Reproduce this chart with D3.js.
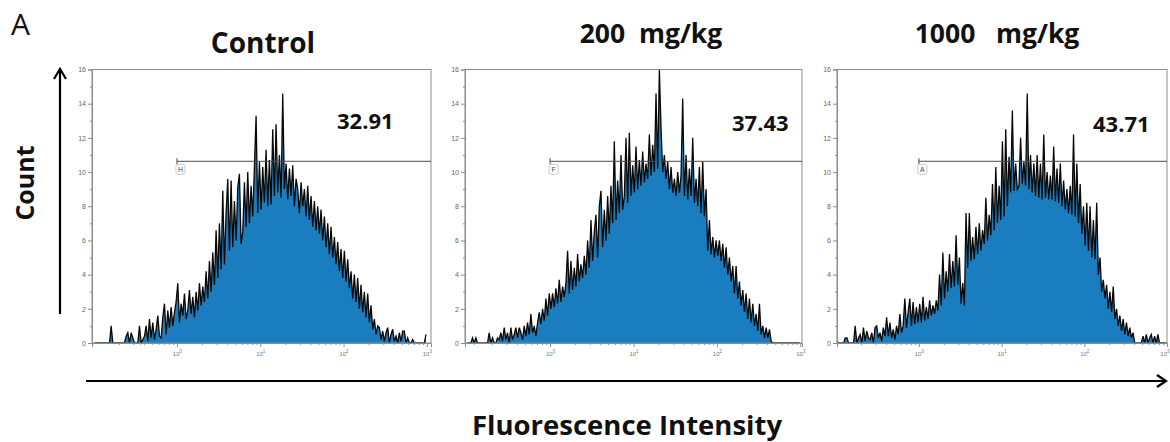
<!DOCTYPE html>
<html><head><meta charset="utf-8">
<script src="https://cdn.jsdelivr.net/npm/d3@7"></script>
<style>body{margin:0;background:#fff} svg{display:block} text{font-family:'Open Sans','Noto Sans',sans-serif}</style>
</head><body>
<svg id="c" width="1170" height="442"></svg>
<script>
// ---------- data ----------
const panelTitles = ["Control", "200  mg/kg", "1000   mg/kg"];
const gatePercents = ["32.91", "37.43", "43.71"];
const gateLetters = ["H", "F", "A"];
const gateStartValue = 1;
const gateLevel = 10.63;
const binStartLog = -1, binWidthLog = 0.02;   // histogram channels in log10 units
const countControl = [
0,0,0,0,0,0,0,0,0,0,
1.0,0,0,0,0,0,0,0,0,0.4,
0.6,0,0.6,0.3,0,0,0,1.0,0,0.2,
0.4,1.0,0.1,1.4,0.3,1.2,0.2,0.8,1.6,0.4,
0.3,1.5,2.3,0.5,1.9,0.9,2.1,1.0,1.8,2.4,
3.5,1.2,2.3,1.6,2.9,1.4,1.9,3.1,1.7,2.7,
1.5,3.0,1.9,3.5,2.2,3.3,2.4,4.2,2.6,4.8,
3.0,5.3,3.4,6.6,3.8,7.0,4.3,8.9,4.6,7.6,
9.6,5.4,9.5,5.6,8.3,6.0,9.1,9.9,5.8,6.5,
9.4,6.8,10.0,7.0,9.2,7.4,10.3,13.3,7.6,10.6,
7.8,10.3,8.2,11.3,8.0,10.7,8.1,12.5,8.6,12.8,
8.8,11.0,8.5,14.6,9.0,10.5,8.4,10.2,8.6,10.4,
8.0,9.6,9.0,7.6,9.4,8.0,9.0,7.4,9.2,7.2,
8.6,6.8,8.3,6.6,8.0,6.4,7.8,6.0,7.4,5.6,
7.0,5.2,6.8,5.0,6.2,4.6,5.9,4.2,5.5,3.8,
5.4,3.6,4.9,3.2,4.2,2.6,4.0,2.4,3.8,2.0,
3.4,1.8,3.0,1.5,2.9,1.2,2.2,0.8,1.4,0.5,
1.0,0.9,0.2,0.7,0.1,0.6,0.9,0,0.5,0.8,
0.1,0.4,0,0.6,0.1,0.7,0.7,0,0.3,0,
0,0.2,0,0,0,0,0,0,0,0.5];
const count200 = [
0,0,0,0.3,0,0.3,0,0,0,0,
0,0,0,0.6,0,0.3,0,0,0.3,0.2,
0.6,0.1,0.9,0.2,0.6,0,0.9,0.2,0.5,0.9,
0.3,0.9,0.6,0.2,1.0,0.4,1.2,0.5,1.7,0.6,
1.0,0.4,1.2,1.8,1.1,2.0,1.3,2.6,1.6,2.9,
2.0,2.9,2.1,3.2,2.3,3.7,2.4,3.3,2.7,3.5,
5.4,2.9,4.8,3.1,4.4,3.3,5.2,3.6,4.6,3.8,
5.1,4.0,6.0,4.4,7.2,4.8,6.5,7.5,5.0,8.0,
8.9,5.6,7.8,6.0,8.6,6.4,9.2,7.0,11.8,7.2,
9.5,7.6,11.0,7.8,8.6,12.0,8.2,12.3,8.6,10.4,
8.8,11.5,9.0,10.7,9.2,11.2,9.4,10.5,9.6,12.2,
9.8,11.6,10.0,14.6,10.2,16.0,12.6,10.0,11.0,9.6,
10.6,9.0,10.3,8.8,9.6,8.6,10.0,8.8,9.8,14.3,
8.6,11.0,8.4,10.2,8.6,12.0,8.2,9.6,8.0,10.3,
7.6,10.6,7.4,9.0,5.4,7.2,5.2,6.2,5.0,6.0,
5.1,6.0,4.8,5.8,4.4,5.6,4.0,5.0,3.6,4.5,
2.9,4.5,2.6,3.6,2.2,3.1,1.8,2.9,1.4,2.6,
1.2,2.3,1.0,1.7,0.7,2.3,0.5,1.0,0.3,0.9,
0.3,0.8,0.1,0,0,0,0,0,0,0,
0,0,0,0,0,0,0,0,0,0];
const count1000 = [
0.1,0,0,0,0,0.3,0.3,0,0,0,
0,1.0,0,0.3,0.5,0,0.9,0.1,0.7,0.3,
0.2,0.6,0,0.9,1.0,0.3,0.6,0.1,0.9,0.4,
1.5,0.4,1.2,0.3,0.8,0.2,1.0,0.5,1.7,0.6,
1.0,2.6,0.9,1.8,2.6,1.0,2.4,1.1,2.1,1.2,
2.3,1.2,2.7,1.3,2.1,1.4,2.5,1.6,2.2,1.7,
2.5,1.9,4.0,2.2,5.3,2.6,4.2,3.0,5.2,3.2,
4.8,3.3,6.3,3.4,5.0,2.3,3.5,2.2,7.6,4.4,
7.6,4.8,6.2,4.9,6.8,5.2,7.0,5.4,6.6,5.8,
8.5,6.0,7.5,6.3,9.3,6.6,10.3,7.0,9.2,7.2,
11.8,7.4,12.5,8.0,10.9,8.8,13.6,8.9,10.5,9.0,
9.2,12.0,9.3,10.6,9.2,14.6,9.0,11.0,8.8,10.5,
8.6,11.0,8.5,10.5,8.4,12.2,8.5,10.0,8.4,9.8,
8.4,11.5,8.3,10.2,8.2,10.5,8.0,9.5,7.8,9.0,
7.6,9.2,7.5,12.2,7.4,10.5,7.0,9.3,6.4,8.0,
5.7,8.2,5.4,8.0,5.0,7.2,4.9,8.2,4.0,5.0,
3.0,3.7,2.6,3.4,2.0,3.0,1.8,3.3,1.4,2.0,
1.0,1.6,0.7,1.4,0.5,1.2,0.4,0.9,0.3,0.6,
0,0,0,0,0,0.4,0,0.5,0,0.3,
0.5,0,0.4,0,0.5,0,0,0,0,0];
const seriesCounts = [countControl, count200, count1000];
const yTickValues = [0, 2, 4, 6, 8, 10, 12, 14, 16];
const yMinorTickValues = [1, 3, 5, 7, 9, 11, 13, 15];
const xTickValues = [1, 10, 100, 1000];
const xTickExponents = ["0", "1", "2", "3"];

// ---------- layout ----------
const panels = [
  {left: 92,  width: 339, dMin: -1.02, dMax: 3.05, pctX: 245, pctY: 129, titleX: 263, titleY: 53, titleSize: 28},
  {left: 465, width: 337, dMin: -1.02, dMax: 3.02, pctX: 267, pctY: 131, titleX: 651, titleY: 43, titleSize: 26.5},
  {left: 837, width: 330, dMin: -0.99, dMax: 3.00, pctX: 256, pctY: 132, titleX: 997, titleY: 43, titleSize: 26.5}
];
const plotTop = 69.5, plotBottom = 343;
const svg = d3.select("#c");
const blue = "#1a7dbf";

svg.append("text").attr("x", 11).attr("y", 35).attr("font-size", 30).attr("fill", "#111").text("A");

panels.forEach((p, k) => {
  const x = d3.scaleLog().domain([Math.pow(10, p.dMin), Math.pow(10, p.dMax)]).range([p.left, p.left + p.width]);
  const y = d3.scaleLinear().domain([0, 16]).range([plotBottom, plotTop]);
  const g = svg.append("g");
  const counts = seriesCounts[k];
  const pts = counts.map((v, i) => ({x: Math.pow(10, binStartLog + binWidthLog * (i + 0.5)), v}));

  g.append("path").datum(pts)
    .attr("d", d3.area().x(d => x(d.x)).y0(y(0)).y1(d => y(d.v)))
    .attr("fill", blue);
  g.append("path").datum(pts)
    .attr("d", d3.line().x(d => x(d.x)).y(d => y(d.v)))
    .attr("fill", "none").attr("stroke", "#080808").attr("stroke-width", 1.3).attr("stroke-linejoin", "miter");

  // frame
  g.append("rect").attr("x", p.left).attr("y", plotTop).attr("width", p.width).attr("height", plotBottom - plotTop)
    .attr("fill", "none").attr("stroke", "#8c8c8c").attr("stroke-width", 1);

  // y axis
  const ya = g.append("g").attr("transform", `translate(${p.left},0)`)
    .call(d3.axisLeft(y).tickValues(yTickValues).tickSize(4).tickPadding(2));
  ya.select(".domain").attr("stroke", "#8c8c8c");
  ya.selectAll(".tick line").attr("stroke", "#8c8c8c");
  ya.selectAll("text").attr("font-size", 7).attr("fill", "#666").style("font-family", "Arial, 'Liberation Sans', sans-serif");
  const ym = g.append("g").attr("transform", `translate(${p.left},0)`)
    .call(d3.axisLeft(y).tickValues(yMinorTickValues).tickSize(2).tickFormat(""));
  ym.select(".domain").remove();
  ym.selectAll(".tick line").attr("stroke", "#8c8c8c");

  // x axis
  const xa = g.append("g").attr("transform", `translate(0,${plotBottom})`)
    .call(d3.axisBottom(x).tickValues(xTickValues).tickSize(4).tickPadding(3).tickFormat(""));
  xa.select(".domain").attr("stroke", "#8c8c8c");
  xa.selectAll(".tick line").attr("stroke", "#8c8c8c");
  xa.selectAll(".tick").append("text").attr("y", 13)
    .attr("text-anchor", (d, i) => (k === 2 && i === xTickValues.length - 1) ? "end" : "middle")
    .attr("x", (d, i) => (k === 2 && i === xTickValues.length - 1) ? 2 : 0)
    .attr("fill", "#777").attr("font-size", 6).style("font-family", "Arial, 'Liberation Sans', sans-serif")
    .each(function(d, i) {
      const t = d3.select(this);
      t.append("tspan").text("10");
      t.append("tspan").attr("dy", -3).attr("font-size", 4.5).text(xTickExponents[i]);
    });
  const minor = [];
  for (let e = -1; e < 3; e++) for (let m = 2; m <= 9; m++) {
    const v = m * Math.pow(10, e);
    if (Math.log10(v) > p.dMin && Math.log10(v) < p.dMax) minor.push(v);
  }
  const xm = g.append("g").attr("transform", `translate(0,${plotBottom})`)
    .call(d3.axisBottom(x).tickValues(minor).tickSize(2).tickFormat(""));
  xm.select(".domain").remove();
  xm.selectAll(".tick line").attr("stroke", "#8c8c8c");

  // gate
  const gx = x(gateStartValue), gy = y(gateLevel);
  g.append("line").attr("x1", gx).attr("x2", p.left + p.width).attr("y1", gy).attr("y2", gy)
    .attr("stroke", "#4a4a4a").attr("stroke-width", 1);
  g.append("line").attr("x1", gx).attr("x2", gx).attr("y1", gy - 3).attr("y2", gy + 3)
    .attr("stroke", "#4a4a4a").attr("stroke-width", 1);
  g.append("rect").attr("x", gx - 1).attr("y", gy + 3).attr("width", 9).attr("height", 10).attr("rx", 2)
    .attr("fill", "#fff").attr("stroke", "#bbb").attr("stroke-width", 0.8);
  g.append("text").attr("x", gx + 3.5).attr("y", gy + 11).attr("text-anchor", "middle")
    .attr("font-size", 7).attr("fill", "#444").style("font-family", "Arial, 'Liberation Sans', sans-serif")
    .text(gateLetters[k]);

  // percent
  g.append("text").attr("x", p.left + p.pctX).attr("y", p.pctY).attr("font-size", 22).attr("font-weight", "bold")
    .attr("fill", "#111").text(gatePercents[k]);

  // title
  svg.append("text").attr("x", p.titleX).attr("y", p.titleY).attr("text-anchor", "middle")
    .attr("font-size", p.titleSize).attr("font-weight", "bold").attr("fill", "#111")
    .style("white-space", "pre").text(panelTitles[k]);
});

// axis arrows & labels
svg.append("path").attr("d", "M60,314 L60,70").attr("stroke", "#000").attr("stroke-width", 2.2).attr("fill", "none");
svg.append("path").attr("d", "M54,79 L60,69 L66,79").attr("stroke", "#000").attr("stroke-width", 2.2).attr("fill", "none");
svg.append("path").attr("d", "M86,381 L1165,381").attr("stroke", "#000").attr("stroke-width", 2.2).attr("fill", "none");
svg.append("path").attr("d", "M1157,375 L1166,381 L1157,387").attr("stroke", "#000").attr("stroke-width", 2.2).attr("fill", "none");
svg.append("text").attr("transform", "translate(34,183) rotate(-90)").attr("text-anchor", "middle")
  .attr("font-size", 25).attr("font-weight", "bold").attr("fill", "#111").text("Count");
svg.append("text").attr("x", 627).attr("y", 435).attr("text-anchor", "middle")
  .attr("font-size", 27.5).attr("font-weight", "bold").attr("fill", "#111").text("Fluorescence Intensity");
</script>
</body></html>
